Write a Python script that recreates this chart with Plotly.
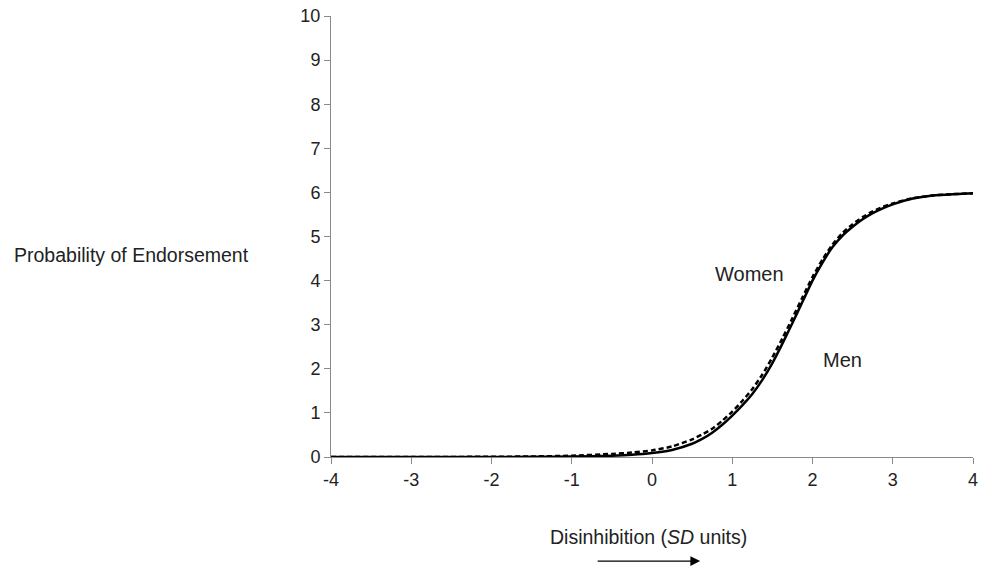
import plotly.graph_objects as go

x_vals = [-4, -3, -2, -1.5, -1, -0.5, -0.25, 0, 0.25, 0.5, 0.625, 0.75, 0.875, 1, 1.125, 1.25, 1.375, 1.5,
          1.625, 1.75, 1.875, 2, 2.125, 2.25, 2.375, 2.5, 2.625, 2.75, 2.875, 3, 3.25, 3.5, 3.75, 4]
men = [0, 0, 0, 0.003, 0.01, 0.03, 0.05, 0.09, 0.16, 0.3, 0.41, 0.55, 0.73, 0.94, 1.17, 1.43, 1.75, 2.13,
       2.57, 3.04, 3.52, 4.0, 4.41, 4.76, 5.02, 5.22, 5.39, 5.53, 5.64, 5.73, 5.86, 5.93, 5.96, 5.98]
women = [0, 0, 0.005, 0.012, 0.03, 0.07, 0.1, 0.15, 0.24, 0.4, 0.51, 0.64, 0.82, 1.03, 1.27, 1.54, 1.87, 2.26,
         2.69, 3.15, 3.62, 4.08, 4.48, 4.82, 5.08, 5.28, 5.44, 5.57, 5.67, 5.75, 5.87, 5.93, 5.96, 5.98]

x_ticks = [-4, -3, -2, -1, 0, 1, 2, 3, 4]
y_ticks = list(range(0, 11))

fig = go.Figure()
fig.add_trace(go.Scatter(x=x_vals, y=men, mode="lines", name="Men",
                         line=dict(color="black", width=2.5, shape="spline", smoothing=0.6)))
fig.add_trace(go.Scatter(x=x_vals, y=women, mode="lines", name="Women",
                         line=dict(color="black", width=2.5, dash="5px,3px", shape="spline", smoothing=0.6)))

axis_gray = "#8a8a8a"
font_main = "Liberation Sans, Arial, sans-serif"
text_col = "#222222"

fig.update_layout(
    width=981, height=571,
    margin=dict(l=331, r=8, t=16, b=114, autoexpand=False),
    paper_bgcolor="white", plot_bgcolor="white",
    showlegend=False,
    font=dict(family=font_main, size=18, color=text_col),
    xaxis=dict(range=[-4, 4], tickvals=x_ticks, ticktext=[str(v) for v in x_ticks],
               showgrid=False, zeroline=False, showline=True, linecolor=axis_gray, linewidth=1,
               ticks="outside", ticklen=6, tickcolor=axis_gray, ticklabeloverflow="allow",
               tickfont=dict(family=font_main, size=18, color=text_col)),
    yaxis=dict(range=[0, 10], tickvals=y_ticks, ticktext=[str(v) for v in y_ticks],
               showgrid=False, zeroline=False, showline=True, linecolor=axis_gray, linewidth=1,
               ticks="outside", ticklen=6, tickcolor=axis_gray, ticklabeloverflow="allow",
               tickfont=dict(family=font_main, size=18, color=text_col)),
)

fig.add_annotation(text="Probability of Endorsement", xref="paper", yref="paper",
                   x=-0.31, y=0.458, xanchor="center", yanchor="middle", showarrow=False,
                   font=dict(family=font_main, size=19.5, color=text_col))
fig.add_annotation(text="Disinhibition (<i>SD</i> units)", xref="paper", yref="paper",
                   x=0.494, y=-0.181, xanchor="center", yanchor="middle", showarrow=False,
                   font=dict(family=font_main, size=19.5, color=text_col))
fig.add_annotation(text="Women", xref="x", yref="y", x=1.22, y=4.15,
                   xanchor="center", yanchor="middle", showarrow=False,
                   font=dict(family=font_main, size=20, color=text_col))
fig.add_annotation(text="Men", xref="x", yref="y", x=2.37, y=2.2,
                   xanchor="center", yanchor="middle", showarrow=False,
                   font=dict(family=font_main, size=20, color=text_col))
fig.add_annotation(text="", xref="paper", yref="paper", axref="pixel", ayref="pixel",
                   x=0.575, y=-0.236, ax=-104, ay=0,
                   showarrow=True, arrowhead=2, arrowsize=1.5, arrowwidth=1.3, arrowcolor="black")

fig.write_html("out.html", config={"displayModeBar": False},
               post_script="document.body.style.margin='0';document.body.style.overflow='hidden';")
